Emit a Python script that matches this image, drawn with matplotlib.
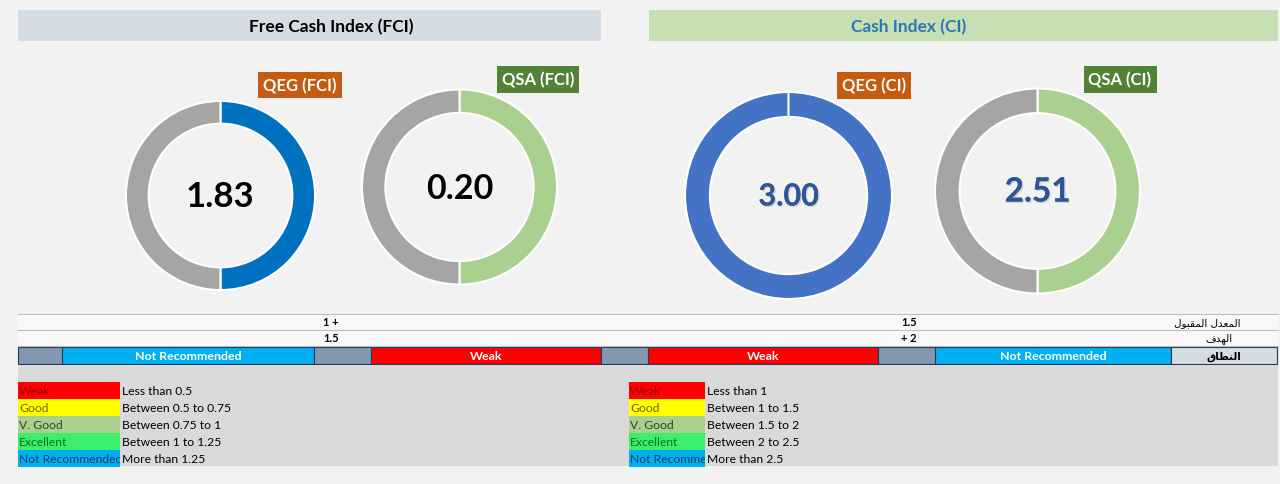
import matplotlib.pyplot as plt
import matplotlib.patheffects as pe
from matplotlib.patches import Rectangle
from matplotlib.transforms import Bbox, TransformedBbox

plt.rcParams['font.family'] = ['Lato', 'DejaVu Sans']

# ---- data ----
section_titles = ['Free Cash Index (FCI)', 'Cash Index (CI)']

donut_labels = ['QEG (FCI)', 'QSA (FCI)', 'QEG (CI)', 'QSA (CI)']
donut_values = [1.83, 0.20, 3.00, 2.51]
donut_fill = [0.5, 0.5, 1.0, 0.5]          # coloured share of each ring
ring_colors = ['#0070C0', '#A9D08E', '#4472C4', '#A9D08E']
tag_colors = ['#C55A11', '#538135', '#C55A11', '#538135']
value_colors = ['black', 'black', '#2F5597', '#2F5597']

row_names = ['المعدل المقبول', 'الهدف', 'النطاق']
fci_row = ['1 +', '1.5']     # acceptable, target
ci_row = ['1.5', '+ 2']
band_labels = ['', 'Not Recommended', '', 'Weak', '', 'Weak', '', 'Not Recommended']
band_colors = ['#8497B0', '#00B0F0', '#8497B0', '#FF0000',
               '#8497B0', '#FF0000', '#8497B0', '#00B0F0']

grades = ['Weak', 'Good', 'V. Good', 'Excellent', 'Not Recommended']
grade_bg = ['#FF0000', '#FFFF00', '#A9D08E', '#3BEF6A', '#00B0F0']
grade_fg = ['#9C0006', '#7F6000', '#3A3A3A', '#0B6E2A', '#1F3864']
fci_ranges = ['Less than 0.5', 'Between 0.5 to 0.75', 'Between 0.75 to 1',
              'Between 1 to 1.25', 'More than 1.25']
ci_ranges = ['Less than 1', 'Between 1 to 1.5', 'Between 1.5 to 2',
             'Between 2 to 2.5', 'More than 2.5']

# arabic presentation forms: isolated, final, initial, medial
FORMS = {
    'ا': ('\uFE8D', '\uFE8E', None, None),
    'ب': ('\uFE8F', '\uFE90', '\uFE91', '\uFE92'),
    'د': ('\uFEA9', '\uFEAA', None, None),
    'ط': ('\uFEC1', '\uFEC2', '\uFEC3', '\uFEC4'),
    'ع': ('\uFEC9', '\uFECA', '\uFECB', '\uFECC'),
    'ف': ('\uFED1', '\uFED2', '\uFED3', '\uFED4'),
    'ق': ('\uFED5', '\uFED6', '\uFED7', '\uFED8'),
    'ل': ('\uFEDD', '\uFEDE', '\uFEDF', '\uFEE0'),
    'م': ('\uFEE1', '\uFEE2', '\uFEE3', '\uFEE4'),
    'ن': ('\uFEE5', '\uFEE6', '\uFEE7', '\uFEE8'),
    'ه': ('\uFEE9', '\uFEEA', '\uFEEB', '\uFEEC'),
    'و': ('\uFEED', '\uFEEE', None, None),
}


def shape_ar(s):
    out = []
    for i, ch in enumerate(s):
        if ch not in FORMS:
            out.append(ch)
            continue
        f = FORMS[ch]
        prev = s[i - 1] if i > 0 else ''
        nxt = s[i + 1] if i + 1 < len(s) else ''
        jp = prev in FORMS and FORMS[prev][2] is not None
        jn = f[2] is not None and nxt in FORMS
        if jp and jn:
            out.append(f[3])
        elif jp:
            out.append(f[1])
        elif jn:
            out.append(f[2])
        else:
            out.append(f[0])
    return ''.join(reversed(out))


W, H = 1280, 485
fig = plt.figure(figsize=(W / 100, H / 100), dpi=100)
fig.patch.set_facecolor('#F2F2F2')
ax = fig.add_axes([0, 0, 1, 1])
ax.set_xlim(0, W)
ax.set_ylim(H, 0)
ax.axis('off')

# section headers
hdr_x = [(18, 601), (649, 1278)]
hdr_tx = [331, 909]
hdr_bg = ['#D6DCE4', '#C6E0B4']
hdr_fg = ['black', '#2E75B6']
for (x0, x1), tx, t, bg, fg in zip(hdr_x, hdr_tx, section_titles, hdr_bg, hdr_fg):
    ax.add_patch(Rectangle((x0, 11), x1 - x0, 31, color=bg, lw=0))
    ax.text(tx, 27, t, ha='center', va='center', fontsize=12.5,
            fontweight='bold', color=fg)

# donuts
centers = [(220.5, 196.5), (459.5, 188), (788.5, 196.5), (1037.5, 192)]
radii = [95.5, 98.5, 104.5, 103.5]
tags = [(300, 86), (538, 80.5), (874, 86.5), (1120, 80.5)]
num_size = [25, 24.5, 22, 24]
for i in range(4):
    cx, cy = centers[i]
    r = radii[i]
    dax = fig.add_axes([(cx - r) / W, (H - cy - r) / H, 2 * r / W, 2 * r / H])
    dax.pie([donut_fill[i], 1 - donut_fill[i]], colors=[ring_colors[i], '#A5A5A5'],
            startangle=90, counterclock=False, radius=1,
            wedgeprops=dict(width=0.24, edgecolor='white', linewidth=1.5))
    dax.set_xlim(-1.01, 1.01)
    dax.set_ylim(-1.01, 1.01)
    dax.axis('off')
    txt = ax.text(cx, cy + 1, f'{donut_values[i]:.2f}', ha='center', va='center',
                  fontsize=num_size[i], fontweight='bold', color=value_colors[i])
    if i >= 2:
        txt.set_path_effects([pe.withSimplePatchShadow(offset=(1, -1), alpha=0.15),
                              pe.Normal()])
    ax.text(tags[i][0], tags[i][1], donut_labels[i], ha='center', va='center',
            fontsize=12, fontweight='bold', color='white',
            bbox=dict(boxstyle='square,pad=0.3', fc=tag_colors[i], ec='none'))

# table rows
ax.add_patch(Rectangle((18, 315), 1260, 32, color='#F8F8F8', lw=0))
for y in (315, 331, 347):
    ax.plot([18, 1278], [y, y], color='#BFBFBF', lw=0.8)
for k in range(2):
    ycen = 323 + 16 * k
    ax.text(331, ycen, fci_row[k], ha='center', va='center', fontsize=8,
            fontweight='bold')
    ax.text(909, ycen, ci_row[k], ha='center', va='center', fontsize=8,
            fontweight='bold')
ax.text(1240, 323, shape_ar(row_names[0]), ha='right', va='center', fontsize=7.5,
        family='DejaVu Sans')
ax.text(1233, 339, shape_ar(row_names[1]), ha='right', va='center', fontsize=7.5,
        family='DejaVu Sans')

# range band
edges = [18, 62, 314, 371, 601, 648, 878, 935, 1171, 1277]
for j in range(len(band_labels)):
    x0, x1 = edges[j], edges[j + 1]
    ax.add_patch(Rectangle((x0, 348), x1 - x0, 17, fc=band_colors[j],
                           ec='#1F3864', lw=0.8))
    if band_labels[j]:
        ax.text((x0 + x1) / 2, 357, band_labels[j], ha='center', va='center',
                fontsize=8.9, fontweight='bold', color='white')
ax.add_patch(Rectangle((edges[-2], 348), edges[-1] - edges[-2], 17, fc='#D6DCE4',
                       ec='#1F3864', lw=0.8))
ax.text((edges[-2] + edges[-1]) / 2, 357, shape_ar(row_names[2]), ha='center',
        va='center', fontsize=7.5, fontweight='bold', family='DejaVu Sans')

# legend area
ax.add_patch(Rectangle((18, 366), 1260, 101, color='#D9D9D9', lw=0))
for (x0, x1), ranges in zip([(18, 120), (629, 705)], [fci_ranges, ci_ranges]):
    for k in range(len(grades)):
        y0 = 383 + 17 * k
        ax.add_patch(Rectangle((x0, y0), x1 - x0, 17, color=grade_bg[k], lw=0))
        t = ax.text(x0 + 1, y0 + 8.5, grades[k], ha='left', va='center',
                    fontsize=8.7, color=grade_fg[k])
        # the grade name is cut off at the cell edge, as in the sheet
        t.set_clip_box(TransformedBbox(Bbox.from_extents(x0, y0, x1, y0 + 17),
                                       ax.transData))
        t.set_clip_on(True)
        ax.text(x1 + 2, y0 + 8.5, ranges[k], ha='left', va='center',
                fontsize=8.7, color='black')

plt.savefig('out.png', dpi=100, facecolor=fig.get_facecolor())
